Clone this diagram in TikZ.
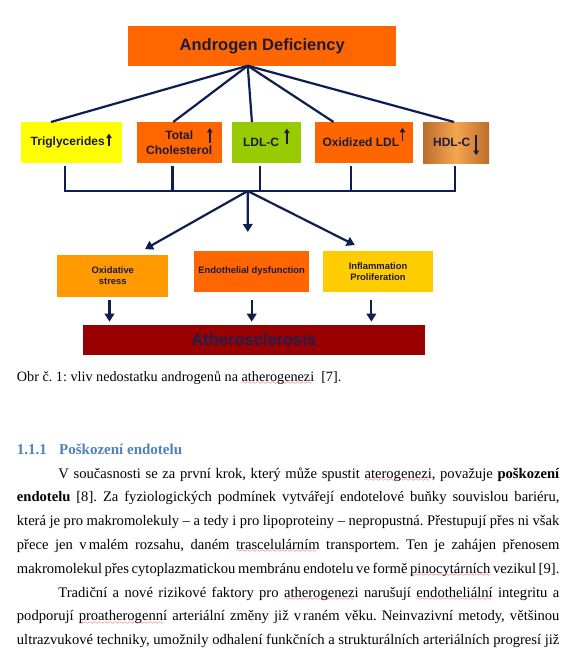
\documentclass[tikz,border=0pt]{standalone}
\usepackage{fontspec}
\setmainfont{Liberation Serif}
\newfontfamily\arial{Liberation Sans}
\usetikzlibrary{arrows.meta,positioning,calc}
\definecolor{oranz}{HTML}{FF6600}
\definecolor{oranz2}{HTML}{FF9900}
\definecolor{zluta}{HTML}{FFFF00}
\definecolor{zlata}{HTML}{FFCC00}
\definecolor{zelena}{HTML}{99CC00}
\definecolor{vinova}{HTML}{990000}
\definecolor{hdlokraj}{HTML}{BC6C2C}
\definecolor{hdlstred}{HTML}{F4A650}
\definecolor{linka}{HTML}{0F1E50}
\definecolor{pismo}{HTML}{1B1B3F}
\definecolor{pismoat}{HTML}{201F52}
\definecolor{modra}{HTML}{4F81BD}
\font\vlnka=lasy6
\newcommand{\chyba}[1]{\setbox0\hbox{#1}\leavevmode
  \rlap{\color{red}\lower3.2pt\hbox to\wd0{\leaders\hbox{\vlnka\char58}\hfill}}\box0\relax}
% mala sipka v textu: od #1 do #2 (nad uctarii)
\newcommand{\sip}[2]{\smash{\tikz[baseline=0pt]\draw[draw=pismo, line width=1.6pt,
  -{Triangle[length=4.5pt,width=5.5pt]}] (0,#1) -- (0,#2);}}
\tikzset{
  blok/.style={rectangle, fill=#1, inner sep=0pt, outer sep=0pt, align=center, text=pismo,
               font=\arial\bfseries\fontsize{12}{14.6}\selectfont, minimum height=41pt},
  maly/.style={blok=#1, font=\arial\bfseries\fontsize{9.4}{11.4}\selectfont, minimum height=41.6pt},
  spoj/.style={line width=2.2pt, draw=linka},
  sipka/.style={spoj, -{Triangle[length=8pt,width=9.5pt]}},
}
\frenchspacing
\begin{document}
\begin{tikzpicture}[x=1pt,y=-1pt]
  \fill[white] (0,0) rectangle (574,664);
  \useasboundingbox (0,0) rectangle (574,664);
  \node[blok=oranz, minimum width=267.7pt, minimum height=39.7pt,
        font=\arial\bfseries\fontsize{16.5}{20}\selectfont] (ad) at (262.2,45.9) {Androgen Deficiency};
  % radek lipidu
  \node[blok=zluta, minimum width=101pt] (tg) at (71.2,142.5) {Triglycerides\hspace{1.5pt}\sip{0pt}{12pt}};
  \node[blok=oranz, minimum width=85pt, right=15pt of tg] (tc)
    {Total\rlap{\hspace{14pt}\sip{-3.5pt}{11.5pt}}\\Cholesterol};
  \node[blok=zelena, minimum width=68.7pt, right=10.3pt of tc] (ld) {LDL-C\hspace{5pt}\sip{3pt}{18pt}};
  \node[blok=oranz, minimum width=97.7pt, right=14.3pt of ld] (ox) {Oxidized LDL\hspace{0.5pt}\sip{6pt}{19pt}};
  \node[blok=hdlokraj, left color=hdlokraj, right color=hdlokraj, middle color=hdlstred,
        minimum width=66pt, right=10.3pt of ox] (hd) {HDL-C\hspace{3pt}\sip{12pt}{-8.5pt}};
  \coordinate (apex) at ($(ad.south west)!.446!(ad.south east)$);
  \coordinate (hub) at (247.7,191);
  \foreach \b/\f in {tg/.30, tc/.43, ld/.29, ox/.19, hd/.47}
    \draw[spoj] (apex) -- ($(\b.north west)!\f!(\b.north east)$);
  \foreach \b/\f in {tg/.44, tc/.42, ld/.41, ox/.37, hd/.48}
    \draw[spoj] ($(\b.south west)!\f!(\b.south east)+(0,2.7)$) |- (hub);
  % mechanismy
  \node[maly=oranz2, minimum width=111pt] (os) at (112.8,275.9) {Oxidative\\stress};
  \node[maly=oranz, minimum width=114.7pt] (ed) at (251.7,271.5) {Endothelial dysfunction};
  \node[maly=zlata, minimum width=110.6pt] (zp) at (378,271.5) {Inflammation\\Proliferation};
  \node[blok=vinova, minimum width=342.3pt, minimum height=30pt, text=pismoat,
        font=\arial\bfseries\fontsize{16.5}{20}\selectfont] (at) at (253.8,340) {Atherosclerosis};
  \draw[sipka] (hub) -- ($(os.north west)!.79!(os.north east)+(0,-6)$);
  \draw[sipka] (hub) -- ($(ed.north west)!.466!(ed.north east)+(0,-18.7)$);
  \draw[sipka] (hub) -- ($(zp.north west)!.29!(zp.north east)+(0,-5.7)$);
  \foreach \b/\f in {os/.47, ed/.5, zp/.44}{
    \coordinate (d) at ($(\b.south west)!\f!(\b.south east)$);
    \draw[sipka] ($(d |- os.south)+(0,3)$) -- ($(d |- at.north)+(0,-3.3)$);
  }
  % text stranky
  \node[anchor=base west, inner sep=0pt, font=\fontsize{14.2}{16}\selectfont] (popis) at (16.7,381)
    {Obr č. 1: vliv nedostatku androgenů na \chyba{atherogenezi}\hspace{3.5pt} [7].};
  \node[anchor=base west, inner sep=0pt, text=modra, font=\bfseries\fontsize{15}{18}\selectfont] (nadpis) at (16.7,454)
    {\makebox[42.3pt][l]{1.1.1}Poškození endotelu};
  \node[anchor=base west, inner sep=0pt, text width=542.5pt, align=justify,
        font=\fontsize{14.6}{23.8}\selectfont] (odst) at (16.7,478)
    {\hspace*{41.5pt}V současnosti se za první krok, který může spustit \chyba{aterogenezi}, považuje \textbf{poškození}\linebreak
     \textbf{endotelu} [8]. Za fyziologických podmínek vytvářejí endotelové buňky souvislou bariéru,\linebreak
     která je pro makromolekuly – a tedy i pro lipoproteiny – nepropustná. Přestupují přes ni však\linebreak
     přece jen v\kern2pt malém rozsahu, daném \chyba{trascelulárním} transportem. Ten je zahájen přenosem\linebreak
     makromolekul přes cytoplazmatickou membránu endotelu ve formě \chyba{pinocytárních} vezikul [9].\par
     \hspace*{41.5pt}Tradiční a nové rizikové faktory pro \chyba{atherogenezi} narušují \chyba{endotheliální} integritu a\linebreak
     podporují \chyba{proatherogenní} arteriální změny již v\kern2pt raném věku. Neinvazivní metody, většinou\linebreak
     ultrazvukové techniky, umožnily odhalení funkčních a strukturálních arteriálních progresí již{\parfillskip=0pt\par}};
\end{tikzpicture}
\end{document}
